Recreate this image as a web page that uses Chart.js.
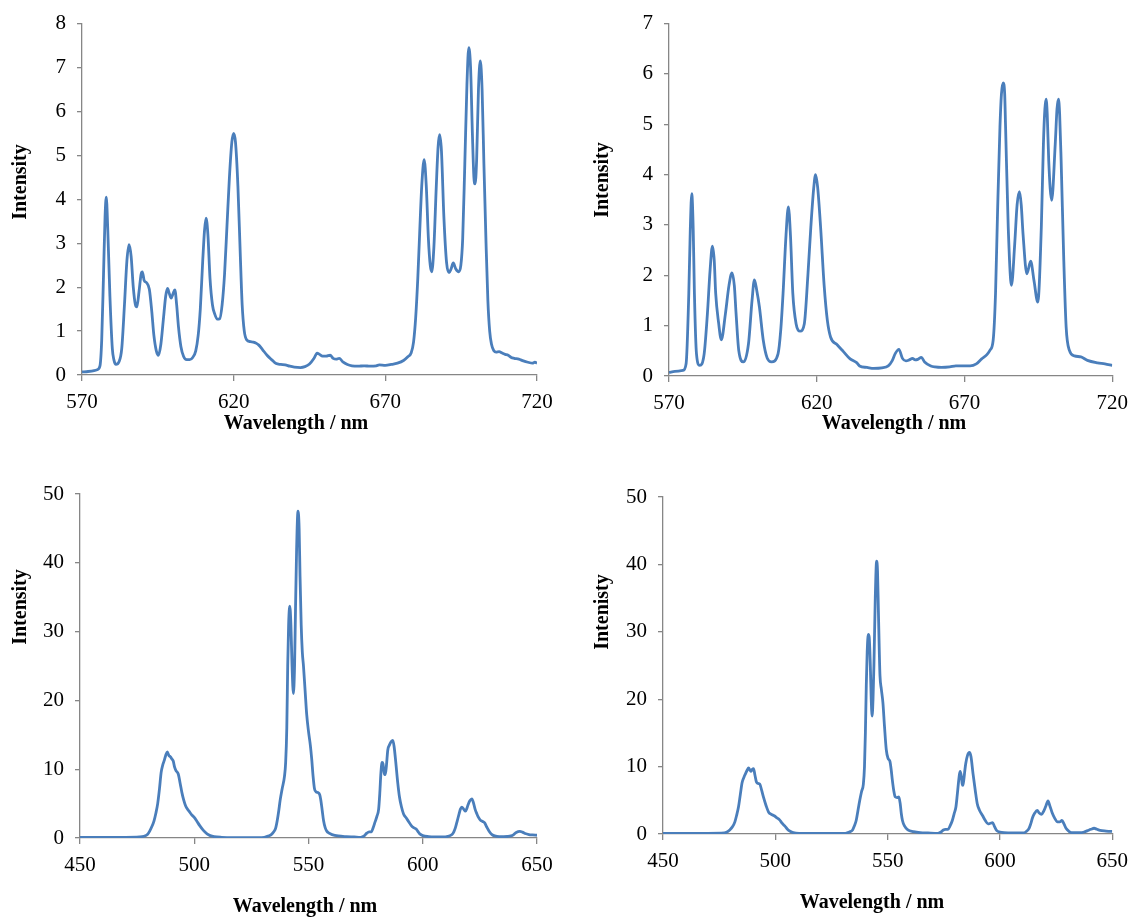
<!DOCTYPE html>
<html><head><meta charset="utf-8">
<script src="https://cdn.jsdelivr.net/npm/chart.js@4.4.0/dist/chart.umd.min.js"></script>
<style>
body{margin:0;background:#fff;width:1137px;height:917px;overflow:hidden;position:relative}
canvas{position:absolute}
</style></head><body>
<canvas id="c1" width="568" height="440" style="left:0;top:0"></canvas>
<canvas id="c2" width="568" height="440" style="left:569px;top:0"></canvas>
<canvas id="c3" width="568" height="457" style="left:0;top:460px"></canvas>
<canvas id="c4" width="568" height="457" style="left:569px;top:460px"></canvas>
<script>
// ---- Data ----
const wlA = [570,572,574,575,575.9,576.5,577.1,577.6,578.0,578.5,579.2,580.0,580.5,581.2,582.2,583.1,584.0,584.8,585.5,586.2,586.9,587.6,588.1,588.8,589.5,589.9,590.5,591.3,592.2,593.0,593.7,594.5,595.2,596.0,596.8,597.6,598.2,598.8,599.4,600.0,600.6,601.2,601.8,602.6,603.5,604.5,605.5,606.5,607.5,608.3,609.0,609.8,610.4,610.9,611.5,612.2,613.0,613.8,614.6,615.4,616.2,617.0,617.8,618.6,619.4,620.0,620.6,621.4,622.2,622.8,623.5,624.3,625.5,626.5,627.5,628.3,629.5,631,632.5,634,635.5,637,638.5,640,642,643.5,645,646.5,647.5,648.3,649.3,650.5,651.8,652.8,653.8,654.8,656,657.5,659,661,663,665,667,668,670,672,674,676,677.5,678.5,679.3,680.0,680.7,681.3,682.0,682.8,683.5,684.2,684.8,685.3,686.0,686.8,687.4,687.9,688.5,689.3,690.2,691.0,691.7,692.4,693.2,694.2,694.9,695.5,696.2,696.9,697.5,698.1,698.7,699.2,699.6,700.1,700.7,701.3,701.9,702.5,703.2,703.8,704.4,705.0,705.8,706.5,707.5,708.5,709.5,710.5,711.5,712.5,714,715.5,717,718.5,719.3,720];
const intA = [0.07,0.08,0.1,0.12,0.2,0.8,2.3,3.6,4.05,3.3,1.8,0.6,0.35,0.24,0.3,0.6,1.6,2.6,2.97,2.7,2.0,1.6,1.55,1.9,2.3,2.35,2.15,2.1,1.95,1.45,0.9,0.55,0.45,0.7,1.25,1.8,1.97,1.85,1.75,1.85,1.94,1.6,1.1,0.65,0.42,0.35,0.35,0.4,0.55,0.9,1.5,2.6,3.3,3.57,3.2,2.2,1.6,1.38,1.27,1.28,1.6,2.3,3.4,4.5,5.3,5.5,5.3,4.3,2.7,1.6,1.0,0.8,0.76,0.75,0.72,0.68,0.58,0.45,0.35,0.26,0.24,0.23,0.2,0.18,0.17,0.19,0.25,0.38,0.5,0.47,0.43,0.43,0.45,0.38,0.36,0.38,0.3,0.24,0.21,0.2,0.21,0.2,0.21,0.23,0.22,0.24,0.27,0.33,0.42,0.5,0.75,1.3,2.2,3.2,4.3,4.9,4.3,3.1,2.5,2.35,2.9,4.3,5.2,5.47,5.1,3.6,2.55,2.33,2.42,2.55,2.42,2.35,2.5,3.1,4.8,6.6,7.45,7.0,5.5,4.5,4.35,4.9,6.5,7.15,6.5,4.8,3.0,1.7,1.0,0.7,0.55,0.52,0.53,0.5,0.47,0.45,0.4,0.38,0.36,0.32,0.29,0.27,0.29,0.27];

const wlB = [570,572,574.7,575.8,576.7,577.2,577.7,578.2,578.6,579.3,580.4,581.9,583,583.9,584.7,585.3,585.8,586.8,587.7,589.1,590.3,591.3,592.1,592.7,593.6,595.2,596.9,598.1,598.9,599.7,600.6,601.9,603.2,604.7,606.9,607.8,608.6,609.6,610.4,611.1,611.9,613,614.4,615.8,617,618,619,619.6,620.3,621.3,622.5,623.6,624.7,626.9,629.1,631.3,633.6,634.5,637,639.3,642,644.2,645.5,646.6,647.8,649,650.2,651.3,652.4,653.3,654.2,655.4,656.5,658.6,660,662.2,665,667.1,669,671.9,674,675.8,677.5,678.6,679.7,680.5,681.2,682,682.5,683.1,683.6,683.9,684.8,685.9,687,687.8,688.6,689.2,689.8,691.1,692.4,693.5,694.8,696,696.7,697.2,697.6,698,698.5,699.5,700.7,701.3,701.8,702.2,702.7,703.6,704.4,705.5,707.2,709.4,711.6,715,717.5,720];
const intB = [0.07,0.09,0.11,0.25,1.64,2.9,3.62,2.9,1.64,0.44,0.21,0.44,1.24,2.1,2.58,2.3,1.64,1.05,0.72,1.24,1.8,2.05,1.8,1.24,0.51,0.28,0.64,1.5,1.91,1.7,1.37,0.71,0.36,0.28,0.44,0.9,1.64,2.8,3.36,2.8,1.64,1.04,0.89,1.04,2.0,2.96,3.75,4.0,3.75,2.96,1.8,1.1,0.77,0.62,0.48,0.34,0.26,0.2,0.17,0.15,0.16,0.2,0.3,0.45,0.53,0.35,0.3,0.32,0.35,0.32,0.33,0.37,0.28,0.2,0.18,0.17,0.18,0.2,0.2,0.2,0.24,0.34,0.42,0.51,0.71,1.64,3.29,4.95,5.6,5.82,5.6,4.95,2.96,1.8,2.63,3.4,3.66,3.4,2.83,2.03,2.28,1.9,1.47,2.96,4.6,5.3,5.5,5.2,4.28,3.49,4.6,5.3,5.5,5.2,4.28,2.3,0.97,0.51,0.4,0.38,0.31,0.26,0.24,0.21];

const wlC = [450,460,470,476,478,479.5,480.5,481.5,482.4,483.2,484,484.8,485.5,486.2,486.8,487.5,488.2,488.9,489.6,490.2,490.8,491.4,492,493,493.8,494.6,495.4,496.2,497,497.7,498.8,500,501.2,502.4,504,505.6,507,508.7,512,516.5,525,530.6,532.5,533.7,534.8,535.6,536.3,537,537.6,538.5,539.5,540,540.5,540.9,541.3,541.8,542.3,542.8,543.4,543.9,544.3,544.8,545.4,545.9,546.3,546.8,547.3,547.8,548.5,549.2,550,550.8,551.4,552,552.6,553.3,554.2,554.9,555.4,556,556.6,557.3,558,559,560.3,563,566.6,570,572.8,574.4,575.5,576.5,577.5,578.3,579.1,580,580.7,581.2,581.7,582.2,582.6,583.1,583.6,584.1,584.7,585.4,586.2,586.9,587.5,588.2,589,589.8,590.7,591.6,592.8,594,595,596,597.1,598,598.7,600,602.6,605,608.8,611,612.8,613.6,614.3,615.1,615.9,616.5,617.1,617.9,618.7,619.3,619.8,620.6,621.5,622.2,622.9,623.7,624.4,625.2,626.2,627.1,628,629.2,630.3,631.5,633.5,635.4,637,638.6,639.8,640.9,642.5,643.6,644.8,646.5,648,650];
const intC = [0.1,0.1,0.1,0.15,0.25,0.5,1.0,1.7,2.5,3.6,5.0,7.2,9.5,10.6,11.2,12.0,12.5,12.0,11.8,11.5,11.2,10.3,9.8,9.3,8.0,6.6,5.5,4.7,4.2,3.9,3.4,3.0,2.4,1.8,1.1,0.6,0.35,0.2,0.1,0.05,0.05,0.1,0.3,0.5,0.9,1.4,2.5,4.0,5.5,7.2,9.0,11,16,25,31,33.7,31,25,21,25,33,42,47.5,45,38,31,27,25,21.5,18,15.5,13.5,11.5,9,7.2,6.7,6.6,6.3,5.5,4,2.5,1.5,1.0,0.7,0.5,0.3,0.2,0.15,0.1,0.3,0.7,0.9,0.9,1.5,2.3,3.2,4.2,6.5,9.5,11.0,10.8,9.5,9.2,10.5,12.8,13.5,14,14.2,13.2,11,8.2,6,4.5,3.5,2.9,2.3,1.8,1.5,1.3,0.9,0.6,0.35,0.2,0.15,0.15,0.25,0.5,0.9,1.5,2.5,3.5,4.2,4.5,4.2,3.9,4.3,4.8,5.4,5.7,5.1,4.2,3.5,3.0,2.6,2.4,2.2,1.6,0.9,0.5,0.3,0.2,0.2,0.22,0.3,0.5,0.8,0.95,0.85,0.65,0.5,0.45,0.4];

const wlD = [450,460,470,477.3,478.5,479.7,481,482,482.8,483.6,484.4,485.2,486,486.8,487.5,488.1,488.7,489.2,489.8,490.3,490.9,491.6,492.3,493.1,493.9,494.7,495.9,497.1,498.3,499.5,500.7,501.9,503,504.2,505.4,506.6,508,510.6,520,531.2,533,534.4,535.2,536,536.8,537.6,538.4,539.2,539.7,540.1,540.5,540.9,541.4,541.8,542.3,542.7,543.1,543.5,543.9,544.5,545.1,545.5,545.9,546.3,546.6,547.2,547.9,548.6,549.4,550.2,551,551.6,552.1,552.8,553.4,554.2,555,555.6,556.1,556.6,557.5,559,561.5,564.5,568,572.4,573.8,574.8,575.8,576.9,577.8,578.8,579.6,580.4,581,581.5,582,582.3,582.8,583.2,583.5,583.9,584.4,584.8,585.6,586.4,587.1,588,589,589.9,590.8,592.3,593.5,594.7,595.8,596.7,597.6,598.6,600,601.8,606,610.5,611.8,612.9,613.7,614.5,615.5,616.6,617.5,618.5,619.5,620.5,621.4,622.2,623.2,624.3,625.6,626.6,627.6,628.5,629.5,630.7,631.9,635.9,637.5,639,640.5,641.9,643.2,644.6,646.5,648.5,650];
const intD = [0.1,0.1,0.1,0.15,0.3,0.6,1.1,1.8,2.8,4.0,5.8,7.6,8.4,9.0,9.5,9.8,9.5,9.3,9.6,9.7,8.8,7.7,7.5,7.4,6.5,5.5,4.2,3.2,2.9,2.7,2.4,2.1,1.6,1.2,0.7,0.4,0.2,0.1,0.08,0.1,0.3,0.6,1.2,2.0,3.5,5.0,6.3,7.4,10,15,22,27,29.6,29.2,25,20,17.5,20,25,35,40.5,39,33,27,23.5,21.5,19.5,16,12.5,11.2,10.8,9.5,8,6.3,5.5,5.4,5.5,4.5,3,2.0,1.2,0.6,0.35,0.2,0.15,0.1,0.3,0.6,0.7,0.7,1.2,2.0,3.0,4.0,5.8,7.5,8.9,9.3,8.6,7.4,7.2,8,9.5,10.5,11.7,12.1,11.5,9.0,6.5,4.5,3.6,2.7,2.0,1.5,1.6,1.7,1.1,0.5,0.3,0.2,0.15,0.15,0.4,0.8,1.5,2.4,3.1,3.5,3.1,2.9,3.4,4.2,4.9,4.2,3.2,2.4,1.8,1.8,2.0,1.5,0.8,0.4,0.2,0.2,0.3,0.5,0.7,0.85,0.7,0.55,0.45,0.4,0.38];

const xTicksTop = [570, 620, 670, 720];
const xTicksBottom = [450, 500, 550, 600, 650];
const xTitle = 'Wavelength / nm';
const yTitles = ['Intensity', 'Intensity', 'Intensity', 'Intenisty'];

// ---- Drawing ----
const FONT = '"Liberation Serif", "Times New Roman", serif';
const titlePlugin = {
  id: 'axTitles',
  afterDraw(chart, args, o) {
    const ctx = chart.ctx;
    ctx.save();
    ctx.font = 'bold 20px ' + FONT;
    ctx.fillStyle = '#000';
    ctx.textAlign = 'center';
    ctx.textBaseline = 'middle';
    ctx.fillText(o.xText, o.xx, o.xy);
    ctx.translate(o.yx, o.yy);
    ctx.rotate(-Math.PI / 2);
    ctx.fillText(o.yText, 0, 0);
    ctx.restore();
  }
};

function mk(id, wl, it, xt, ymax, ystep, box, t) {
  const W = box.W, H = box.H;
  const pts = wl.map((x, i) => ({x: x, y: it[i]}));
  new Chart(document.getElementById(id), {
    type: 'line',
    data: { datasets: [{ data: pts, borderColor: '#4A7EBB', borderWidth: 2.8, pointRadius: 0, fill: false, cubicInterpolationMode: 'monotone' }] },
    options: {
      responsive: false, animation: false, devicePixelRatio: 1,
      layout: { padding: { left: 0, top: box.T, right: W - box.R, bottom: 0 } },
      plugins: { legend: { display: false }, tooltip: { enabled: false },
        axTitles: { xText: xTitle, xx: t.xx, xy: t.xy, yText: t.yText, yx: t.yx, yy: t.yy } },
      scales: {
        x: {
          type: 'linear', min: xt[0], max: xt[xt.length - 1],
          afterBuildTicks: s => { s.ticks = xt.map(v => ({value: v})); },
          afterFit: s => { s.height = H - box.B; },
          grid: { drawOnChartArea: false, drawTicks: true, tickLength: 6, color: '#868686', lineWidth: 1.3 },
          border: { display: true, color: '#868686', width: 1.3 },
          ticks: { color: '#000', font: { family: FONT, size: 21 }, padding: 9, maxRotation: 0, autoSkip: false }
        },
        y: {
          min: 0, max: ymax,
          ticks: { stepSize: ystep, color: '#000', font: { family: FONT, size: 21 }, padding: 11 },
          afterFit: s => { s.width = box.L; },
          grid: { drawOnChartArea: false, drawTicks: true, tickLength: 5, color: '#868686', lineWidth: 1.3 },
          border: { display: true, color: '#868686', width: 1.3 }
        }
      }
    },
    plugins: [titlePlugin]
  });
}

mk('c1', wlA, intA, xTicksTop, 8, 1, {W: 568, H: 440, L: 82, R: 537, T: 23, B: 375},
   {xx: 296, xy: 424, yText: yTitles[0], yx: 21, yy: 182});
mk('c2', wlB, intB, xTicksTop, 7, 1, {W: 568, H: 440, L: 100, R: 551, T: 23, B: 376},
   {xx: 325, xy: 424, yText: yTitles[1], yx: 34, yy: 180});
mk('c3', wlC, intC, xTicksBottom, 50, 10, {W: 568, H: 457, L: 80, R: 537, T: 34, B: 378},
   {xx: 305, xy: 447, yText: yTitles[2], yx: 21, yy: 147});
mk('c4', wlD, intD, xTicksBottom, 50, 10, {W: 568, H: 457, L: 94, R: 551, T: 37, B: 374},
   {xx: 303, xy: 443, yText: yTitles[3], yx: 34, yy: 152});
</script>
</body></html>
